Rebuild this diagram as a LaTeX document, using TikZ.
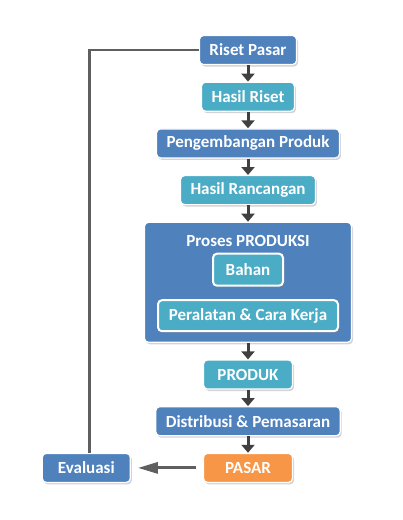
\documentclass[tikz,border=0pt]{standalone}
\usepackage{fontspec}
\setmainfont{Carlito}
\usetikzlibrary{arrows.meta,positioning,shadows}
\definecolor{biru}{HTML}{4F81BD}
\definecolor{tosca}{HTML}{4BACC6}
\definecolor{oranye}{HTML}{F79646}
\definecolor{abu}{HTML}{404040}
\definecolor{abumuda}{HTML}{5F5F5F}
\tikzset{
    %Define style for boxes
    kotak/.style={
           rectangle,
           rounded corners=4pt,
           draw=white, line width=1.2pt,
           fill=biru,
           text=white,
           font=\bfseries\fontsize{17}{20}\selectfont,
           minimum height=29pt,
           inner xsep=10pt,
           drop shadow={opacity=0.35,shadow xshift=1.5pt,shadow yshift=-2pt}},
    kotaktosca/.style={
           kotak,
           fill=tosca},
    kotakdalam/.style={
           kotaktosca,
           line width=2pt},
    % Define arrow style
    panah/.style={
           -{Triangle[width=13pt,length=8pt]},
           line width=3pt,
           draw=abu},
    panahkiri/.style={
           -{Triangle[width=11pt,length=20pt]},
           line width=3pt,
           draw=abumuda,
           shorten <=7pt,
           shorten >=7pt},
    balik/.style={
           line width=2.5pt,
           draw=abumuda}
}
\begin{document}
\begin{tikzpicture}[x=1pt,y=1pt]
         \useasboundingbox (0,0) rectangle (403,-520);
         %nodes
         \node[kotak] (riset) at (248,-50) {Riset Pasar};
         \node[kotaktosca, below=16.5pt of riset] (hasilriset) {Hasil Riset};
         \node[kotak, below=16.5pt of hasilriset] (pengembangan) {Pengembangan Produk};
         \node[kotaktosca, below=16.5pt of pengembangan] (rancangan) {Hasil Rancangan};
         \node[kotak, minimum width=207pt, minimum height=120pt,
               below=16.5pt of rancangan] (proses) {};
         \node[text=white, font=\bfseries\fontsize{17}{20}\selectfont]
               (judul) at ([yshift=-19pt]proses.north) {Proses PRODUKSI};
         \node[kotakdalam, minimum width=70pt, minimum height=32pt]
               (bahan) at ([yshift=-48pt]proses.north) {Bahan};
         \node[kotakdalam, minimum width=180pt, minimum height=31pt]
               (peralatan) at ([yshift=-94pt]proses.north) {Peralatan \& Cara Kerja};
         \node[kotaktosca, minimum width=89pt, below=16.5pt of proses] (produk) {PRODUK};
         \node[kotak, below=16.5pt of produk] (distribusi) {Distribusi \& Pemasaran};
         \node[kotak, fill=oranye, minimum width=89pt, below=16.5pt of distribusi] (pasar) {PASAR};
         \node[kotak, minimum width=88pt, left=72pt of pasar] (evaluasi) {Evaluasi};
         %arrows
         \draw[panah] (riset) -- (hasilriset);
         \draw[panah] (hasilriset) -- (pengembangan);
         \draw[panah] (pengembangan) -- (rancangan);
         \draw[panah] (rancangan) -- (proses);
         \draw[panah] (proses) -- (produk);
         \draw[panah] (produk) -- (distribusi);
         \draw[panah] (distribusi) -- (pasar);
         \draw[panahkiri] (pasar) -- (evaluasi);
         \draw[balik] ([xshift=3pt]evaluasi.north) |- (riset.west);
\end{tikzpicture}
\end{document}
